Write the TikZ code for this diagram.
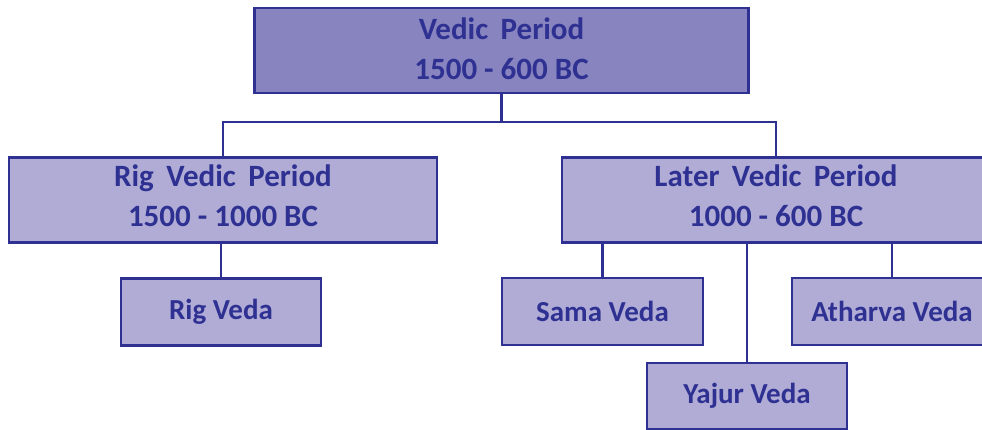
\documentclass[tikz,border=0pt]{standalone}
\usepackage{fontspec}
\setmainfont{Carlito}
\definecolor{ink}{HTML}{2E3192}
\definecolor{topfill}{HTML}{8884BF}
\definecolor{boxfill}{HTML}{B0ACD6}
\newcommand{\ws}{\hspace{0.4em}}
\begin{document}
\begin{tikzpicture}[x=1pt,y=-1pt,
  box/.style={draw=ink, line width=2.9pt, fill=boxfill, text=ink,
    font=\fontsize{29}{38}\selectfont\bfseries, align=center,
    inner sep=0pt, outer sep=0pt},
  conn/.style={draw=ink, line width=2.8pt},
  lbl/.style={text=ink, font=\fontsize{31}{40}\selectfont\bfseries, align=center, inner sep=0pt}]
\useasboundingbox (0,0) rectangle (982,430);
\node[box, fill=topfill, minimum width=494pt, minimum height=85pt] (top) at (501.5,50.5) {};
\node[lbl] (topt) at (501.5,48.5) {Vedic\ws Period\\1500 - 600 BC};
\node[box, minimum width=428pt, minimum height=85pt] (rig) at (223,200) {};
\node[lbl] (rigt) at (223,196) {Rig\ws Vedic\ws Period\\1500 - 1000 BC};
\node[box, minimum width=428pt, minimum height=85pt] (later) at (776,200) {};
\node[lbl] (latert) at (776,196) {Later\ws Vedic\ws Period\\1000 - 600 BC};
\node[box, minimum width=200pt, minimum height=67pt] (rv) at (221,312) {Rig Veda};
\node[box, minimum width=201pt, minimum height=67pt] (sv) at (602.5,311.5) {Sama Veda};
\node[box, minimum width=200pt, minimum height=67pt] (av) at (892,311.5) {Atharva Veda};
\node[box, minimum width=200pt, minimum height=66pt] (yv) at (747,396) {Yajur Veda};
\coordinate (hb) at (501.5,122);
\draw[conn] (top.south) -- (hb);
\draw[conn] (rig.north) |- (hb) -| (later.north);
\draw[conn] (rig.south -| rv.north) -- (rv.north);
\draw[conn] (later.south -| sv.north) -- (sv.north);
\draw[conn] (later.south -| yv.north) -- (yv.north);
\draw[conn] (later.south -| av.north) -- (av.north);
\end{tikzpicture}
\end{document}
